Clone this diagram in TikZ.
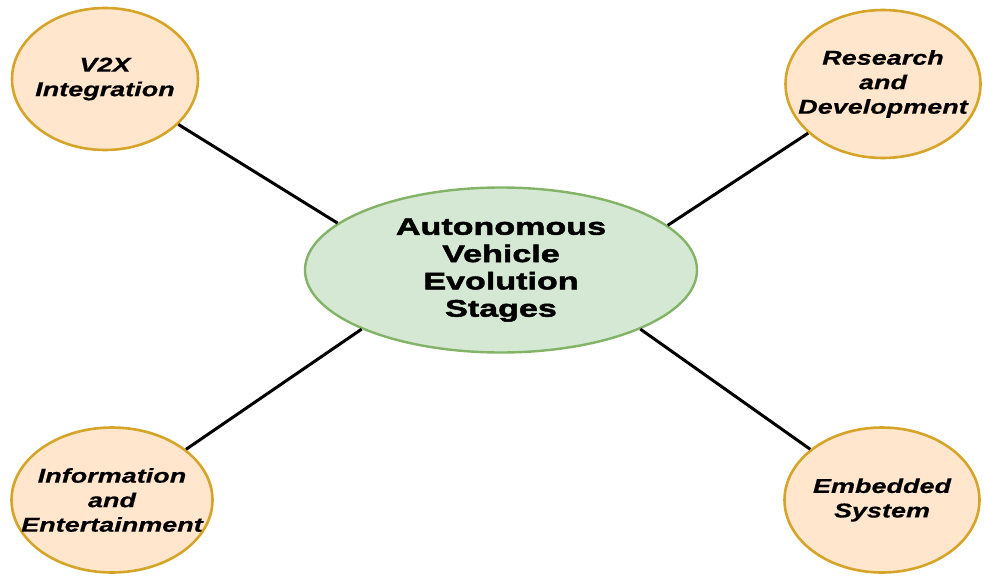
\documentclass[tikz,border=0pt]{standalone}
\usepackage{fontspec}
\setmainfont{Liberation Sans}
\newfontfamily\stagefont{Liberation Sans}[FakeStretch=1.35, FakeBold=0.6]
\newfontfamily\hubfont{Liberation Sans}[FakeStretch=1.42, FakeBold=2]
\usetikzlibrary{shapes.geometric}

\definecolor{peach}{HTML}{FFE6CC}
\definecolor{gold}{HTML}{D6A428}
\definecolor{mint}{HTML}{D5E8D4}
\definecolor{leaf}{HTML}{82B366}

\begin{document}
\begin{tikzpicture}[
    x=1pt, y=-1pt,
    stage/.style={ellipse, draw=gold, fill=peach, line width=2.6pt, inner sep=-40pt,
      minimum width=195pt, minimum height=148pt, align=center,
      font=\stagefont\bfseries\itshape\fontsize{20}{24.5}\selectfont},
    hub/.style={ellipse, draw=leaf, fill=mint, line width=2.4pt, inner sep=-60pt,
      minimum width=392pt, minimum height=165pt, align=center,
      font=\hubfont\bfseries\fontsize{24}{27.3}\selectfont},
    link/.style={line width=3pt, black}
  ]
  \useasboundingbox (0,0) rectangle (984,575);

  % Center
  \node[hub] (hub) at (501,270) {Autonomous\\Vehicle\\Evolution\\Stages};

  % Corner stages
  \node[stage, minimum width=186pt, minimum height=142pt] (v2x) at (105,79) {V2X\\Integration};
  \node[stage] (rnd) at (883,84) {Research\\and\\Development};
  \node[stage, minimum width=201pt, minimum height=145pt] (info) at (112,500) {Information\\and\\Entertainment};
  \node[stage, minimum height=145pt] (emb) at (882,500) {Embedded\\System};

  % Links
  \draw[link] (v2x) -- (hub.164);
  \draw[link] (rnd) -- (hub.15);
  \draw[link] (info) -- (hub.203);
  \draw[link] (emb) -- (hub.-23);
\end{tikzpicture}
\end{document}
